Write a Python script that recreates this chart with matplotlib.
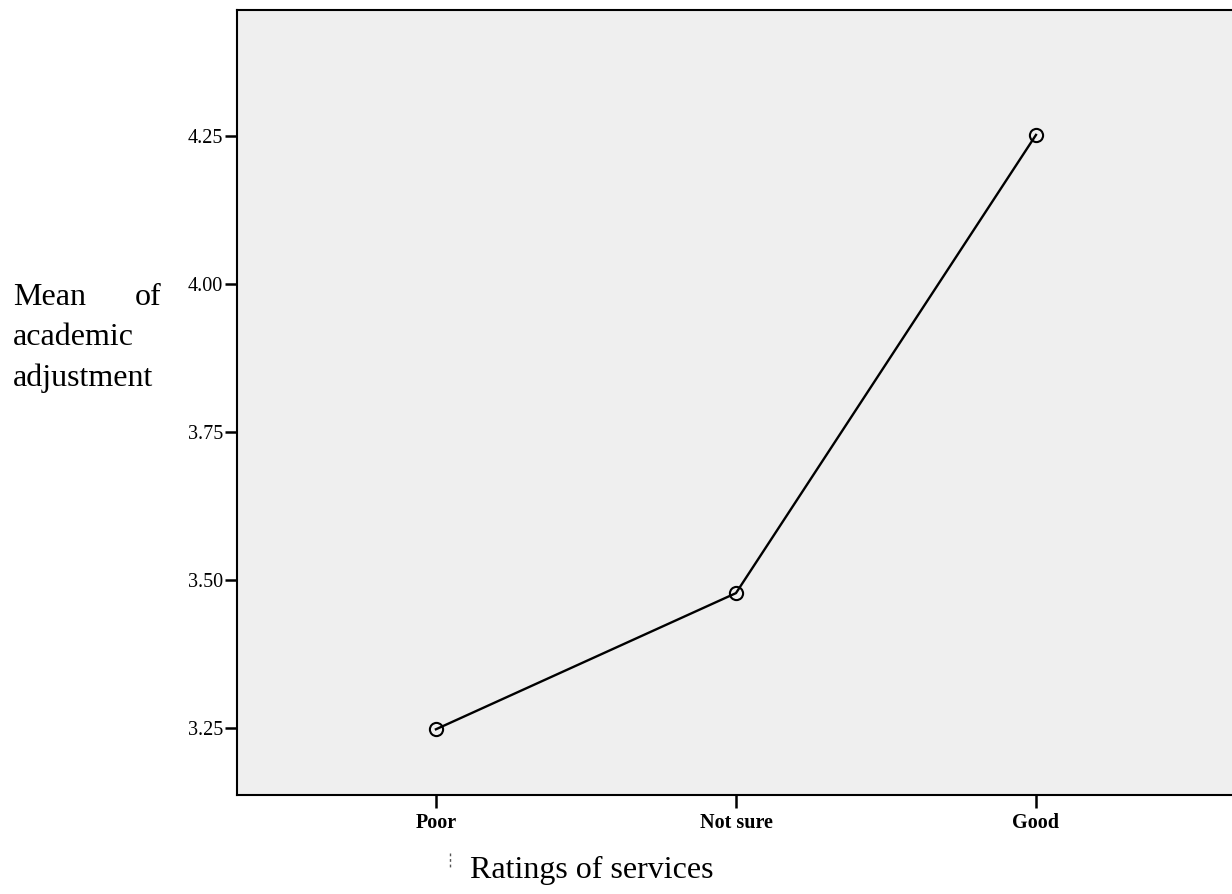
import matplotlib
matplotlib.use("Agg")
import matplotlib.pyplot as plt

categories = ["Poor", "Not sure", "Good"]
means = [3.248, 3.478, 4.252]
yticks = [3.25, 3.50, 3.75, 4.00, 4.25]
ytick_labels = ["3.25", "3.50", "3.75", "4.00", "4.25"]

plt.rcParams['font.family'] = ['Liberation Serif', 'DejaVu Serif']

W, H = 1232, 894
fig = plt.figure(figsize=(W / 100, H / 100), dpi=100)
ax = fig.add_axes([237 / W, 1 - 795 / H, (1240 - 237) / W, (795 - 10) / H])
ax.set_facecolor('#efefef')

x = list(range(len(categories)))
ax.plot(x, means, color='black', lw=1.7, marker='o', markersize=9.5,
        markerfacecolor='none', markeredgecolor='black', markeredgewidth=1.5)

ax.set_xlim(-0.663, 2.68)
ax.set_ylim(3.137, 4.463)
ax.set_xticks(x)
ax.set_xticklabels(categories, fontsize=14.5, fontweight='bold')
ax.set_yticks(yticks)
ax.set_yticklabels(ytick_labels, fontsize=14.5)
ax.tick_params(axis='y', direction='out', length=9, width=1.8, pad=1)
ax.tick_params(axis='x', direction='out', length=9, width=1.8, pad=4)
for s in ['left', 'bottom', 'top']:
    ax.spines[s].set_linewidth(1.5)
ax.spines['right'].set_visible(False)

# y-axis label (justified text block)
fig.text(13 / W, 1 - 298 / H, "Mean", fontsize=23, ha='left', va='center')
fig.text(161 / W, 1 - 298 / H, "of", fontsize=23, ha='right', va='center')
fig.text(13 / W, 1 - 338 / H, "academic", fontsize=23, ha='left', va='center')
fig.text(13 / W, 1 - 378 / H, "adjustment", fontsize=23, ha='left', va='center')

# x-axis label
fig.text(470 / W, 1 - 870 / H, "Ratings of services", fontsize=23, ha='left', va='center')
fig.add_artist(plt.Line2D([450 / W, 450 / W], [1 - 853 / H, 1 - 868 / H],
                          color='#555555', lw=1, ls=(0, (2, 2)), transform=fig.transFigure))

fig.savefig("out.png", dpi=100, facecolor='white')
